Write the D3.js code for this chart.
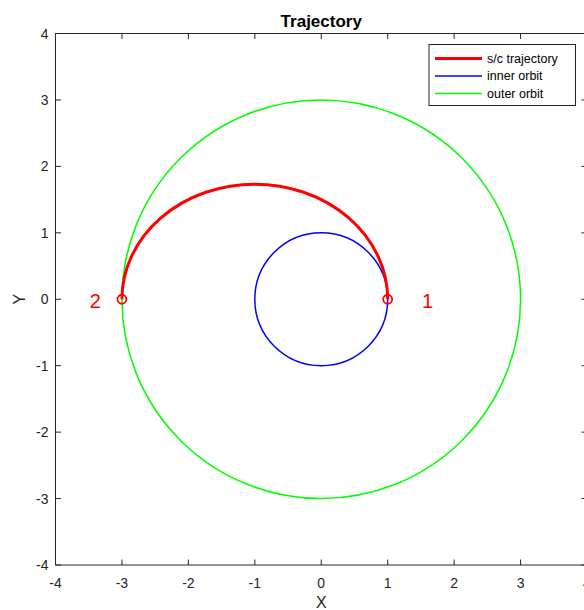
<!DOCTYPE html>
<html>
<head>
<meta charset="utf-8">
<script src="https://cdn.jsdelivr.net/npm/d3@7"></script>
<style>
  body { margin: 0; background: #fff; }
  svg { font-family: "Liberation Sans", Arial, Helvetica, sans-serif; }
</style>
</head>
<body>
<div id="chart"></div>
<script>
// chart data
const xTicks = [-4, -3, -2, -1, 0, 1, 2, 3, 4];
const yTicks = [-4, -3, -2, -1, 0, 1, 2, 3, 4];
const orbitNames = ['s/c trajectory', 'inner orbit', 'outer orbit'];
const orbitColors = ['#ff0000', '#0000ff', '#00ff00'];
const orbitWidths = [3, 1.5, 1.5];
const innerRadius = 1;
const outerRadius = 3;
const transferPeri = 1;   // start of transfer, point 1
const transferApo = 3;    // end of transfer, point 2
const pointLabels = ['1', '2'];
const pointX = [1, -3];
const pointY = [0, 0];
const labelX = [1.6, -3.4];

const W = 584, H = 610;
const padLeft = 55.5, padTop = 33.5, plotSize = 531.5;

const svg = d3.select('#chart').append('svg')
  .attr('width', W).attr('height', H);

const x = d3.scaleLinear().domain([-4, 4]).range([padLeft, padLeft + plotSize]);
const y = d3.scaleLinear().domain([-4, 4]).range([padTop + plotSize, padTop]);

const axisColor = '#262626';

// axes box + ticks
const g = svg.append('g');
g.append('rect')
  .attr('x', x(-4)).attr('y', y(4))
  .attr('width', x(4) - x(-4)).attr('height', y(-4) - y(4))
  .attr('fill', 'none').attr('stroke', axisColor).attr('stroke-width', 1);

const tickLen = 5.5;
g.selectAll('.xt-b').data(xTicks).enter().append('line')
  .attr('x1', d => x(d)).attr('x2', d => x(d))
  .attr('y1', y(-4)).attr('y2', y(-4) - tickLen)
  .attr('stroke', axisColor);
g.selectAll('.xt-t').data(xTicks).enter().append('line')
  .attr('x1', d => x(d)).attr('x2', d => x(d))
  .attr('y1', y(4)).attr('y2', y(4) + tickLen)
  .attr('stroke', axisColor);
g.selectAll('.yt-l').data(yTicks).enter().append('line')
  .attr('x1', x(-4)).attr('x2', x(-4) + tickLen)
  .attr('y1', d => y(d)).attr('y2', d => y(d))
  .attr('stroke', axisColor);
g.selectAll('.yt-r').data(yTicks).enter().append('line')
  .attr('x1', x(4)).attr('x2', x(4) - tickLen)
  .attr('y1', d => y(d)).attr('y2', d => y(d))
  .attr('stroke', axisColor);

g.selectAll('.xl').data(xTicks).enter().append('text')
  .attr('x', d => x(d)).attr('y', y(-4) + 23)
  .attr('text-anchor', 'middle').attr('font-size', 14).attr('fill', axisColor)
  .text(d => d);
g.selectAll('.yl').data(yTicks).enter().append('text')
  .attr('x', x(-4) - 7).attr('y', d => y(d) + 5)
  .attr('text-anchor', 'end').attr('font-size', 14).attr('fill', axisColor)
  .text(d => d);

// title and axis labels
svg.append('text').attr('x', x(0)).attr('y', 27)
  .attr('text-anchor', 'middle').attr('font-size', 17).attr('font-weight', 'bold')
  .text('Trajectory');
svg.append('text').attr('x', x(0)).attr('y', 608)
  .attr('text-anchor', 'middle').attr('font-size', 16).attr('fill', axisColor)
  .text('X');
svg.append('text')
  .attr('transform', `translate(25,${y(0)}) rotate(-90)`)
  .attr('text-anchor', 'middle').attr('font-size', 16).attr('fill', axisColor)
  .text('Y');

// orbits
const radii = [innerRadius, outerRadius];
svg.selectAll('.orbit').data(radii).enter().append('circle')
  .attr('cx', x(0)).attr('cy', y(0))
  .attr('r', d => x(d) - x(0))
  .attr('fill', 'none')
  .attr('stroke', (d, i) => orbitColors[i + 1])
  .attr('stroke-width', (d, i) => orbitWidths[i + 1]);

// transfer ellipse, upper half
const a = (transferPeri + transferApo) / 2;
const b = Math.sqrt(transferPeri * transferApo);
const rx = x(a) - x(0), ry = y(0) - y(b);
svg.append('path')
  .attr('d', `M${x(transferPeri)},${y(0)} A${rx},${ry} 0 0 0 ${x(-transferApo)},${y(0)}`)
  .attr('fill', 'none')
  .attr('stroke', orbitColors[0])
  .attr('stroke-width', orbitWidths[0]);

// points and labels
svg.selectAll('.pt').data(pointX).enter().append('circle')
  .attr('cx', d => x(d)).attr('cy', (d, i) => y(pointY[i]))
  .attr('r', 4.5)
  .attr('fill', 'none').attr('stroke', '#ff0000').attr('stroke-width', 1.8);
svg.selectAll('.pl').data(pointLabels).enter().append('text')
  .attr('x', (d, i) => x(labelX[i])).attr('y', (d, i) => y(pointY[i]) + 8.5)
  .attr('text-anchor', 'middle').attr('font-size', 20).attr('fill', '#ff0000')
  .text(d => d);

// legend
const lg = svg.append('g').attr('transform', 'translate(429,44.5)');
lg.append('rect').attr('width', 146.5).attr('height', 61)
  .attr('fill', '#fff').attr('stroke', axisColor).attr('stroke-width', 1);
orbitNames.forEach((name, i) => {
  const ly = 14 + i * 17.5;
  lg.append('line').attr('x1', 6).attr('x2', 53).attr('y1', ly).attr('y2', ly)
    .attr('stroke', orbitColors[i]).attr('stroke-width', orbitWidths[i]);
  lg.append('text').attr('x', 58).attr('y', ly + 4.3)
    .attr('font-size', 12.5).attr('fill', '#000').text(name);
});
</script>
</body>
</html>
